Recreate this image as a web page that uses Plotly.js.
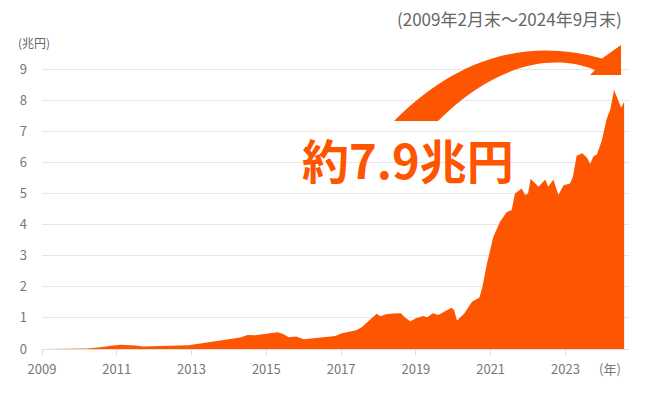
<!DOCTYPE html>
<html>
<head>
<meta charset="utf-8">
<script src="https://cdn.plot.ly/plotly-3.0.1.min.js"></script>
<style>
  html, body { margin: 0; padding: 0; background: #fff; }
  #chart { width: 648px; height: 402px; }
</style>
</head>
<body>
<div id="chart"></div>
<script>
// 残高の推移（兆円）、x は年の小数表記
const years = [
  2009.1, 2009.9, 2010.2, 2010.5, 2010.7, 2010.9, 2011.1, 2011.3, 2011.5, 2011.7,
  2012.0, 2012.3, 2012.6, 2012.9, 2013.1, 2013.3, 2013.5, 2013.8, 2014.0, 2014.3,
  2014.5, 2014.7, 2014.85, 2015.0, 2015.3, 2015.45, 2015.6, 2015.8, 2016.0, 2016.2,
  2016.45, 2016.6, 2016.85, 2017.0, 2017.2, 2017.4, 2017.55, 2017.75, 2017.95, 2018.05,
  2018.2, 2018.4, 2018.6, 2018.7, 2018.85, 2019.0, 2019.2, 2019.3, 2019.45, 2019.6,
  2019.8, 2019.95, 2020.02, 2020.1, 2020.3, 2020.5, 2020.7, 2020.78, 2020.9, 2021.07,
  2021.25, 2021.43, 2021.56, 2021.65, 2021.83, 2021.92, 2022.0, 2022.07, 2022.28, 2022.46,
  2022.54, 2022.68, 2022.81, 2022.95, 2023.12, 2023.2, 2023.3, 2023.45, 2023.58, 2023.66,
  2023.75, 2023.84, 2023.97, 2024.1, 2024.2, 2024.3, 2024.42, 2024.49, 2024.57
];
const balance = [
  0, 0.005, 0.02, 0.05, 0.09, 0.11, 0.14, 0.13, 0.11, 0.08,
  0.09, 0.08, 0.09, 0.12, 0.15, 0.19, 0.21, 0.28, 0.32, 0.37,
  0.45, 0.44, 0.47, 0.49, 0.54, 0.48, 0.38, 0.40, 0.31, 0.34,
  0.38, 0.40, 0.42, 0.50, 0.54, 0.60, 0.70, 0.91, 1.13, 1.05,
  1.12, 1.14, 1.15, 1.02, 0.89, 0.99, 1.06, 1.02, 1.15, 1.09,
  1.22, 1.33, 1.26, 0.92, 1.15, 1.52, 1.66, 2.0, 2.74, 3.6,
  4.09, 4.41, 4.46, 5.0, 5.16, 4.95, 5.0, 5.48, 5.22, 5.45,
  5.22, 5.45, 4.95, 5.27, 5.32, 5.54, 6.22, 6.3, 6.15, 5.95,
  6.2, 6.26, 6.69, 7.39, 7.71, 8.33, 7.98, 7.76, 7.95
];
const xTicks = [2009, 2011, 2013, 2015, 2017, 2019, 2021, 2023];
const yTicks = [0, 1, 2, 3, 4, 5, 6, 7, 8, 9];

const orange = '#fe5600';
const font = '"Noto Sans CJK JP", "Noto Sans", sans-serif';

// 画素位置を paper 座標へ（描画域: x 42〜629, y 63〜349）
const px = x => (x - 42) / 587;
const py = y => (349 - y) / 286;
const pt = (x, y) => `${px(x).toFixed(4)},${py(y).toFixed(4)}`;

// 右上へ向かう曲線の矢印
const arrowPath =
  `M${pt(394, 121)} C${pt(464, 51)} ${pt(534, 40)} ${pt(602, 58.5)} ` +
  `L${pt(621, 45)} L${pt(621, 75)} L${pt(590, 75)} L${pt(595, 70)} ` +
  `C${pt(550, 52)} ${pt(493, 66)} ${pt(438, 121)} Z`;

const data = [{
  type: 'scatter',
  mode: 'lines',
  x: years,
  y: balance,
  fill: 'tozeroy',
  fillcolor: orange,
  line: { color: orange, width: 0 },
  hoverinfo: 'skip'
}];

const layout = {
  width: 648,
  height: 402,
  margin: { l: 42, r: 19, t: 63, b: 53 },
  paper_bgcolor: '#fff',
  plot_bgcolor: '#fff',
  showlegend: false,
  font: { family: font, color: '#666', size: 13 },
  xaxis: {
    range: [2009, 2024.7],
    tickvals: xTicks,
    ticktext: xTicks.map(String),
    showgrid: false,
    zeroline: false,
    showline: true,
    linecolor: '#dddddd',
    ticks: 'outside',
    ticklen: 5,
    tickcolor: '#dddddd',
    ticklabelstandoff: 3,
    tickfont: { size: 13, color: '#777' }
  },
  yaxis: {
    range: [0, 9.2],
    tickvals: yTicks,
    showgrid: true,
    gridcolor: '#e6e6e6',
    zeroline: false,
    ticks: '',
    ticklabelstandoff: 14,
    tickfont: { size: 13, color: '#777' }
  },
  shapes: [{
    type: 'path',
    xref: 'paper',
    yref: 'paper',
    path: arrowPath,
    fillcolor: orange,
    line: { width: 0 },
    layer: 'above'
  }],
  annotations: [
    {
      text: '(2009年2月末～2024年9月末)',
      xref: 'paper', yref: 'paper',
      x: px(624), y: py(18),
      xanchor: 'right', yanchor: 'middle',
      showarrow: false,
      font: { size: 17, color: '#666' }
    },
    {
      text: '(兆円)',
      xref: 'paper', yref: 'paper',
      x: px(16), y: py(43),
      xanchor: 'left', yanchor: 'middle',
      showarrow: false,
      font: { size: 12, color: '#666' }
    },
    {
      text: '(年)',
      xref: 'paper', yref: 'paper',
      x: px(623), y: py(368),
      xanchor: 'right', yanchor: 'middle',
      showarrow: false,
      font: { size: 13, color: '#777' }
    },
    {
      text: '<b>約7.9兆円</b>',
      xref: 'paper', yref: 'paper',
      x: px(408), y: py(158),
      xanchor: 'center', yanchor: 'middle',
      showarrow: false,
      font: { size: 47, color: orange }
    }
  ]
};

Plotly.newPlot('chart', data, layout, { displayModeBar: false, staticPlot: true });
</script>
</body>
</html>
